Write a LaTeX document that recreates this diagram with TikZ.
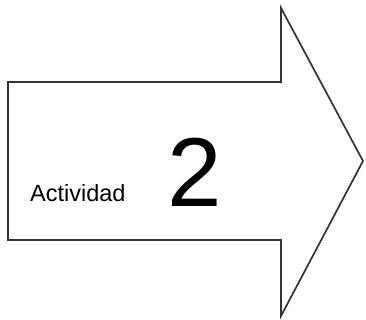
\documentclass[tikz,border=0pt]{standalone}
\usepackage{fontspec}
\setmainfont{Liberation Sans}
\tikzset{>=latex}

\begin{document}
\begin{tikzpicture}[x=1pt,y=-1pt]
	\useasboundingbox (0,0) rectangle (366,320);
	%\draw[help lines] (0,0) grid (366,320);
	\coordinate (bodytl) at (8,82);
	\coordinate (bodybl) at (8,240);
	\coordinate (headt) at (281,8);
	\coordinate (headb) at (281,316);
	\coordinate (tip) at (363,161);
	\draw[line width=1.7pt, black!80, line join=miter]
		(bodytl) -- (281,82) -- (headt) -- (tip) -- (headb) -- (281,240) -- (bodybl) -- cycle;
	\node[anchor=base west, inner sep=0pt, font=\fontsize{23.5}{28}\selectfont] (word) at (30,201) {Actividad};
	\node[anchor=base west, inner sep=0pt, font=\fontsize{98}{110}\selectfont] (num) at (167,207) {2};
\end{tikzpicture}
\end{document}
